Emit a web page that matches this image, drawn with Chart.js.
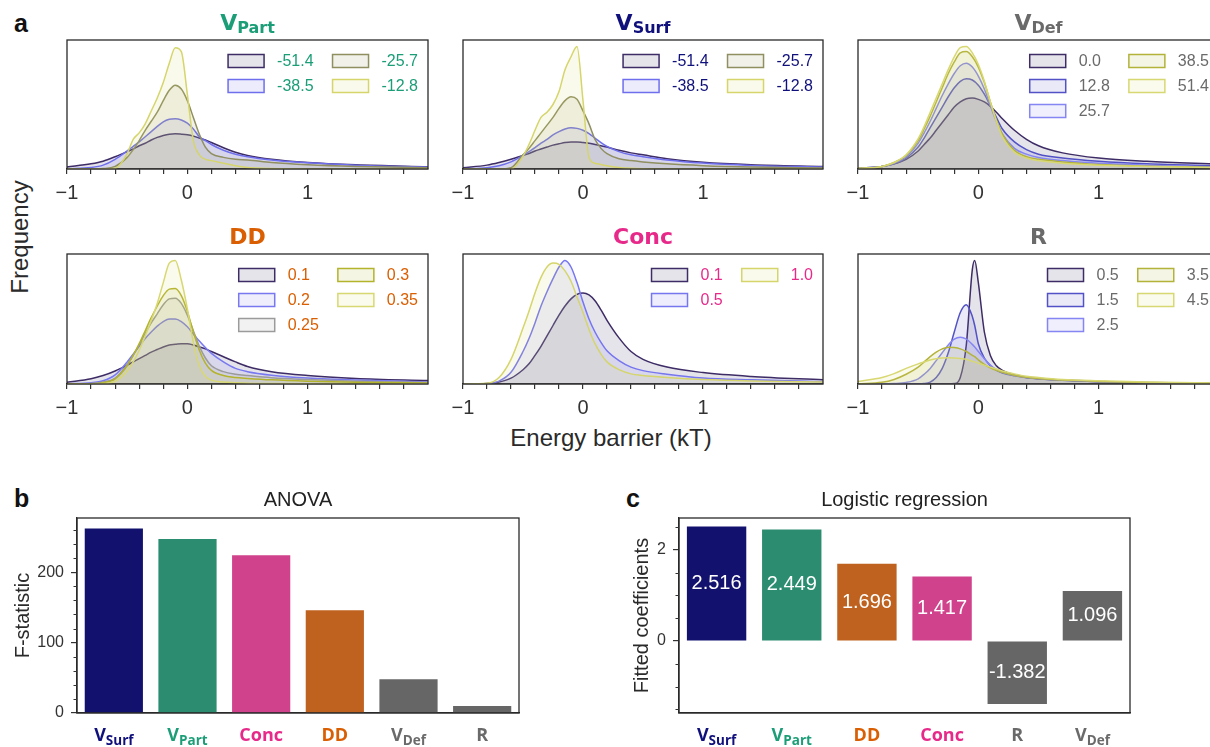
<!DOCTYPE html>
<html>
<head>
<meta charset="utf-8">
<script src="https://cdn.jsdelivr.net/npm/chart.js@4.4.1/dist/chart.umd.min.js"></script>
<style>
  html, body { margin: 0; padding: 0; background: #fff; overflow: hidden; }
  #page { position: relative; width: 1210px; height: 747px; overflow: hidden; background: #fff; }
  canvas { position: absolute; }
  .lbl { position: absolute; font-family: "Liberation Sans", Arial, sans-serif; color: #2a2a2a; line-height: 1; white-space: nowrap; }
</style>
</head>
<body>
<div id="page">
  <div class="lbl" style="left:14px;top:11px;font-size:25px;font-weight:bold;color:#111;">a</div>
  <div class="lbl" style="left:14px;top:486px;font-size:25px;font-weight:bold;color:#111;">b</div>
  <div class="lbl" style="left:626px;top:486px;font-size:25px;font-weight:bold;color:#111;">c</div>
  <div class="lbl" style="left:20px;top:237px;font-size:24px;transform:translate(-50%,-50%) rotate(-90deg);">Frequency</div>
  <div class="lbl" style="left:611px;top:426px;font-size:24px;transform:translateX(-50%);">Energy barrier (kT)</div>
</div>
<script>
// ---- data: KDE panels (density in % of panel height) ----
const energyGrid = [-1, -0.8, -0.7, -0.6, -0.5, -0.45, -0.4, -0.35, -0.3, -0.25, -0.2, -0.15, -0.1, -0.05, 0, 0.05, 0.1, 0.15, 0.2, 0.3, 0.4, 0.5, 0.7, 1.0, 1.4, 2.0];
const energyGridR = [-1, -0.8, -0.7, -0.6, -0.5, -0.45, -0.4, -0.35, -0.3, -0.25, -0.2, -0.15, -0.1, -0.05, -0.03, 0, 0.05, 0.1, 0.15, 0.2, 0.3, 0.4, 0.5, 0.7, 1.0, 1.4, 2.0];

const vPartLevels = ['-51.4', '-38.5', '-25.7', '-12.8'];
const vPartDensity = [
  [1.5, 4, 6, 9.5, 13.5, 15.5, 18, 20, 22.5, 24.5, 26, 27, 27.3, 27, 26.5, 25.5, 24, 22.5, 20.5, 16.5, 13, 10.5, 7.5, 5, 3.2, 1.8],
  [0.2, 1.2, 3, 7.5, 14, 17.5, 21, 25, 29, 33, 36.5, 38.5, 39, 38, 35.5, 31, 25, 22, 19, 14.5, 11.5, 9.5, 7, 4.8, 3, 1.5],
  [0, 0, 0.3, 2, 9, 15, 22, 30, 37, 44, 53, 61, 65, 62, 53, 40, 27, 17, 12, 9, 7.5, 7, 5, 3.3, 2, 1],
  [0, 0, 0, 0.5, 12, 23, 28, 35, 45, 55, 67, 82, 94, 91, 58, 22, 11, 7.5, 6.5, 4.5, 2.5, 1.2, 0.3, 0, 0, 0]
];

const vSurfLevels = ['-51.4', '-38.5', '-25.7', '-12.8'];
const vSurfDensity = [
  [1, 3, 5, 7.5, 10.5, 12, 14, 15.5, 17, 18.5, 19.5, 20.5, 21, 21, 20.5, 20, 19, 18, 17, 14.5, 12.5, 11, 8, 5.2, 3.3, 2],
  [0.2, 1, 2.5, 5.5, 10.5, 13.5, 16.5, 20, 23, 26.5, 29, 31, 32, 31.5, 30, 27.5, 24, 20.5, 17.5, 13.5, 11, 9.5, 7, 4.6, 2.8, 1.5],
  [0, 0, 0, 1, 11, 16, 22, 28, 34, 40, 47, 53, 56, 54, 45, 35, 23, 16, 12, 8, 6.5, 5.5, 4, 2.6, 1.5, 0.8],
  [0, 0, 0, 0, 10, 19, 30, 40, 44, 50, 60, 77, 87, 95, 53, 9, 4.5, 3.5, 2.5, 1.2, 0.5, 0.2, 0, 0, 0, 0]
];

const vDefLevels = ['0.0', '12.8', '25.7', '38.5', '51.4'];
const vDefDensity = [
  [0.5, 2, 4, 7.5, 14, 19, 24, 30, 36, 42, 48, 52, 54.5, 55, 54, 52, 48.5, 44, 39, 30, 23, 18, 12.5, 8.5, 6, 3.8],
  [0.5, 2, 4, 8.5, 17, 24, 32, 40, 48, 56, 63, 68, 70, 69, 65, 58, 49, 40, 31, 21, 15, 11.5, 8.5, 6, 4, 2.3],
  [0.5, 2, 4.5, 9.5, 20, 28, 37, 47, 57, 66, 74, 80, 82, 79, 72, 62, 49, 37, 27, 16, 11.5, 9, 6.5, 4.4, 3, 1.5],
  [0.5, 2, 5, 10.5, 22, 31, 41, 52, 63, 74, 83, 90, 91, 87, 79, 67, 52, 38, 27, 14.5, 9.5, 7.5, 5.5, 3.4, 2.2, 1.2],
  [0.5, 2, 5, 11, 23.5, 33, 44, 55, 66, 77, 87, 94, 95, 90, 81, 68, 52, 37, 25, 13, 8.5, 6.5, 4.5, 3, 2, 1]
];

const ddLevels = ['0.1', '0.2', '0.25', '0.3', '0.35'];
const ddDensity = [
  [1.3, 4, 6.5, 10, 14.5, 17, 19.5, 22, 24.5, 26.5, 28.5, 30, 30.5, 31, 31, 30, 28.5, 27, 25, 21, 17, 13.5, 9.5, 6.5, 4.3, 2.6],
  [0.1, 1, 2.5, 7, 17, 23, 29, 35, 40, 44.5, 48, 50, 50, 48, 44, 38.5, 33, 28, 23.5, 17, 12, 9.5, 6.8, 4.6, 3, 1.6],
  [0, 0.3, 1.5, 4.5, 15, 22, 30, 39, 47, 54, 61, 65.5, 66, 62, 53, 41, 29, 20, 14, 9.5, 7.5, 6.5, 4.8, 3.4, 2.2, 1.2],
  [0, 0.2, 1, 4, 14, 22, 31, 41, 51, 60, 68, 73, 73.5, 68, 56, 40, 26, 16, 10.5, 6.5, 5, 4.3, 3.2, 2.2, 1.4, 0.8],
  [0, 0, 0.3, 2, 10, 17, 26, 37, 49, 62, 78, 93, 95, 80, 58, 32, 14, 6, 3, 1.5, 1, 0.6, 0.3, 0.1, 0, 0]
];

const concLevels = ['0.1', '0.5', '1.0'];
const concDensity = [
  [0, 0.3, 1.5, 4.5, 11, 15.5, 22, 29, 37, 45, 53, 60, 65.5, 69, 70, 68.5, 64, 57, 49, 35.5, 25, 19, 13, 8.8, 5.8, 3.2],
  [0, 0.3, 2.2, 9, 25, 35, 47, 60, 71, 81, 90, 95, 90, 78, 63, 50, 40, 32, 25.5, 18, 13, 10.3, 7.5, 4.6, 3.2, 1.8],
  [0, 0.5, 5, 19, 43, 56, 70, 82, 90, 93, 92, 87, 79, 67, 55, 42, 31, 23, 17, 11, 7.8, 6.5, 5, 3.4, 2.3, 1.5]
];

const rLevels = ['0.5', '1.5', '2.5', '3.5', '4.5'];
const rDensity = [
  [0, 0, 0, 0, 0, 0, 0, 0, 0, 0, 0.3, 5, 30, 88, 95, 78, 40, 22, 14, 10.5, 7, 5, 4, 2.8, 1.8, 1, 0.4],
  [0, 0, 0, 0, 0, 0.3, 1.5, 5, 12, 24, 40, 55, 61, 52, 45, 31, 20, 14, 10.5, 8.5, 6.3, 4.8, 4, 2.8, 1.8, 1, 0.4],
  [0, 0, 0.3, 1.2, 4, 7.5, 12, 18, 24, 30, 34.5, 36, 34.5, 30.5, 28.5, 25, 19.5, 14.5, 11, 9, 6.8, 5.2, 4.2, 3, 2, 1.1, 0.5],
  [0.2, 1.3, 3.5, 7.5, 13, 17, 21, 24.5, 27, 28.3, 28, 27, 25, 22, 21, 18.5, 15, 12.5, 10.5, 9, 6.8, 5.2, 4.2, 3, 2, 1.1, 0.5],
  [2, 5, 8, 12, 15.5, 17, 18.5, 19.5, 20, 20.2, 20, 19.6, 19, 17.5, 17, 16, 14.5, 13, 11.5, 10, 7.8, 6, 5, 3.5, 2.5, 1.6, 0.8]
];

const kdeTicks = [-1, -0.8, -0.6, -0.4, -0.2, 0, 0.2, 0.4, 0.6, 0.8, 1, 1.2, 1.4, 1.6, 1.8];
const kdeTickLabels = [-1, 0, 1];

// ---- data: bar panels ----
const anovaParams = ['VSurf', 'VPart', 'Conc', 'DD', 'VDef', 'R'];
const anovaF = [262, 247, 224, 146, 48, 10];
const anovaTicks = [0, 100, 200];
const anovaMinor = [20, 40, 60, 80, 120, 140, 160, 180, 220, 240, 260];

const logitParams = ['VSurf', 'VPart', 'DD', 'Conc', 'R', 'VDef'];
const logitCoef = [2.516, 2.449, 1.696, 1.417, -1.382, 1.096];
const logitTicks = [0, 2];
const logitMinor = [-1.5, -1, -0.5, 0.5, 1, 1.5, 2.5];

// ---- styles ----
const FONT = '"Liberation Sans", Arial, sans-serif';
const TITLE_FONT = '"DejaVu Sans", "Open Sans", sans-serif';
const CAT_FONT = '"Open Sans", "DejaVu Sans", sans-serif';
const labelParts = { VSurf: ['V', 'Surf'], VPart: ['V', 'Part'], VDef: ['V', 'Def'], DD: ['DD', ''], Conc: ['Conc', ''], R: ['R', ''] };
const textColors = { VSurf: '#10107c', VPart: '#1b9e77', VDef: '#6a6a6a', DD: '#d95f02', Conc: '#e7298a', R: '#6a6a6a' };
const barColors = { VSurf: '#12126e', VPart: '#2b8c6f', Conc: '#d0428b', DD: '#bf621f', VDef: '#666666', R: '#666666' };

const palette4 = ['#3d2c66', '#6f6fee', '#8f8f60', '#d5d56c'];
const palette5 = ['#3d2c66', '#5252c6', '#8585f3', '#b3b33a', '#d8d872'];
const paletteDD = ['#3d2c66', '#7878f0', '#9b9b9b', '#b3b32c', '#d8d872'];
const palette3 = ['#3d2c66', '#7676ef', '#d5d56c'];

Chart.defaults.font.family = FONT;
Chart.defaults.color = '#333';

function rgba(hex, a) {
  const n = parseInt(hex.slice(1), 16);
  return `rgba(${n >> 16}, ${(n >> 8) & 255}, ${n & 255}, ${a})`;
}

function fmtTick(v) {
  return v < 0 ? '\u2212' + Math.abs(v) : String(v);
}

// box round the plot area
const frame = {
  id: 'frame',
  afterDraw(chart) {
    const a = chart.chartArea, ctx = chart.ctx;
    ctx.save();
    ctx.strokeStyle = '#2a2a2a';
    ctx.lineWidth = 1.3;
    ctx.strokeRect(a.left, a.top, a.right - a.left, a.bottom - a.top);
    ctx.restore();
  }
};

// V with subscript, above each KDE panel
const panelTitle = {
  id: 'panelTitle',
  afterDraw(chart, args, opts) {
    const ctx = chart.ctx, a = chart.chartArea;
    const [main, sub] = labelParts[opts.param];
    ctx.save();
    ctx.fillStyle = textColors[opts.param];
    ctx.textBaseline = 'alphabetic';
    ctx.font = `bold 22px ${TITLE_FONT}`;
    const w1 = ctx.measureText(main).width;
    ctx.font = `bold 16px ${TITLE_FONT}`;
    const w2 = sub ? ctx.measureText(sub).width : 0;
    const x = (a.left + a.right) / 2 - (w1 + w2) / 2;
    const y = a.top - 10;
    ctx.font = `bold 22px ${TITLE_FONT}`;
    ctx.fillText(main, x, y);
    if (sub) {
      ctx.font = `bold 16px ${TITLE_FONT}`;
      ctx.fillText(sub, x + w1, y + 3);
    }
    ctx.restore();
  }
};

// two-column legend, filled column by column
const kdeLegend = {
  id: 'kdeLegend',
  afterDraw(chart, args, opts) {
    const ds = chart.data.datasets;
    const ctx = chart.ctx, a = chart.chartArea;
    const pw = 36, ph = 13, gap = 13, colGap = 19, rightPad = 10;
    ctx.save();
    ctx.font = `16px ${FONT}`;
    const rows = Math.ceil(ds.length / 2);
    const cols = [ds.slice(0, rows), ds.slice(rows)];
    const colW = cols.map(c => pw + gap + Math.max(...c.map(d => ctx.measureText(d.label).width)));
    let x = a.right - rightPad - colW[0] - colW[1] - colGap;
    cols.forEach((c, ci) => {
      c.forEach((d, ri) => {
        const yc = a.top + 21 + ri * 25;
        ctx.fillStyle = '#fff';
        ctx.fillRect(x, yc - ph / 2, pw, ph);
        ctx.fillStyle = d.backgroundColor;
        ctx.fillRect(x, yc - ph / 2, pw, ph);
        ctx.strokeStyle = d.borderColor;
        ctx.lineWidth = 1.5;
        ctx.strokeRect(x, yc - ph / 2, pw, ph);
        ctx.fillStyle = textColors[opts.param];
        ctx.textBaseline = 'middle';
        ctx.fillText(d.label, x + pw + gap, yc + 1);
      });
      x += colW[ci] + colGap;
    });
    ctx.restore();
  }
};

// short unlabeled ticks on the y axis
const minorTicks = {
  id: 'minorTicks',
  afterDraw(chart, args, opts) {
    const s = chart.scales.y, ctx = chart.ctx, x = chart.chartArea.left;
    ctx.save();
    ctx.strokeStyle = '#333';
    ctx.lineWidth = 1;
    opts.values.forEach(v => {
      const y = Math.round(s.getPixelForValue(v)) + 0.5;
      ctx.beginPath();
      ctx.moveTo(x, y);
      ctx.lineTo(x - 3.5, y);
      ctx.stroke();
    });
    ctx.restore();
  }
};

// coloured category names with subscripts
const catLabels = {
  id: 'catLabels',
  afterDraw(chart) {
    const s = chart.scales.x, ctx = chart.ctx;
    const y = chart.chartArea.bottom + 28;
    ctx.save();
    ctx.textBaseline = 'alphabetic';
    chart.data.labels.forEach((lab, i) => {
      const [main, sub] = labelParts[lab];
      ctx.font = `bold 18px ${CAT_FONT}`;
      const w1 = ctx.measureText(main).width;
      ctx.font = `bold 13.5px ${CAT_FONT}`;
      const w2 = sub ? ctx.measureText(sub).width : 0;
      const x = s.getPixelForTick(i) - (w1 + w2) / 2;
      ctx.fillStyle = textColors[lab];
      ctx.font = `bold 18px ${CAT_FONT}`;
      ctx.fillText(main, x, y);
      if (sub) {
        ctx.font = `bold 13.5px ${CAT_FONT}`;
        ctx.fillText(sub, x + w1, y + 4);
      }
    });
    ctx.restore();
  }
};

// numbers printed inside the bars
const barValues = {
  id: 'barValues',
  afterDatasetsDraw(chart) {
    const ctx = chart.ctx;
    const meta = chart.getDatasetMeta(0);
    const vals = chart.data.datasets[0].data;
    ctx.save();
    ctx.fillStyle = '#fff';
    ctx.font = `20px ${FONT}`;
    ctx.textAlign = 'center';
    ctx.textBaseline = 'middle';
    meta.data.forEach((bar, i) => {
      const p = bar.getProps(['x', 'y', 'base'], true);
      ctx.fillText(vals[i].toFixed(3), p.x, (p.y + p.base) / 2);
    });
    ctx.restore();
  }
};

const page = document.getElementById('page');

function addCanvas(left, top, w, h) {
  const c = document.createElement('canvas');
  c.width = w;
  c.height = h;
  c.style.left = left + 'px';
  c.style.top = top + 'px';
  page.appendChild(c);
  return c;
}

const kdePanels = [
  { param: 'VPart', levels: vPartLevels, density: vPartDensity, grid: energyGrid, palette: palette4, left: 67, top: 40, width: 361, height: 129 },
  { param: 'VSurf', levels: vSurfLevels, density: vSurfDensity, grid: energyGrid, palette: palette4, left: 463, top: 40, width: 360, height: 129 },
  { param: 'VDef', levels: vDefLevels, density: vDefDensity, grid: energyGrid, palette: palette5, left: 858, top: 40, width: 361, height: 129 },
  { param: 'DD', levels: ddLevels, density: ddDensity, grid: energyGrid, palette: paletteDD, left: 67, top: 254, width: 361, height: 130 },
  { param: 'Conc', levels: concLevels, density: concDensity, grid: energyGrid, palette: palette3, left: 463, top: 254, width: 360, height: 130 },
  { param: 'R', levels: rLevels, density: rDensity, grid: energyGridR, palette: palette5, left: 858, top: 254, width: 361, height: 130 }
];

function makeKde(p) {
  const padL = 20, padR = 20, padT = 40, padB = 4, axisH = 30;
  const canvas = addCanvas(p.left - padL, p.top - padT, p.width + padL + padR, padT + p.height + axisH + padB);
  const n = p.levels.length;
  new Chart(canvas, {
    type: 'line',
    data: {
      datasets: p.levels.map((lev, i) => ({
        label: lev,
        data: p.grid.map((x, j) => ({ x: x, y: p.density[i][j] })),
        borderColor: p.palette[i],
        backgroundColor: rgba(p.palette[i], 0.13),
        borderWidth: 1.5,
        pointRadius: 0,
        fill: 'origin',
        cubicInterpolationMode: 'monotone',
        order: n - i
      }))
    },
    options: {
      responsive: false,
      animation: false,
      devicePixelRatio: 1,
      events: [],
      layout: { padding: { left: padL, right: padR, top: padT, bottom: padB } },
      plugins: {
        legend: { display: false },
        tooltip: { enabled: false },
        panelTitle: { param: p.param },
        kdeLegend: { param: p.param }
      },
      scales: {
        x: {
          type: 'linear', min: -1, max: 2,
          afterBuildTicks: s => { s.ticks = kdeTicks.map(v => ({ value: v })); },
          afterFit: s => { s.height = axisH; },
          ticks: {
            autoSkip: false, maxRotation: 0, padding: 7,
            font: { size: 20 }, color: '#333',
            callback: v => kdeTickLabels.includes(v) ? fmtTick(v) : ''
          },
          grid: { drawOnChartArea: false, tickLength: 5, color: '#333', lineWidth: 1.2 },
          border: { display: true, color: '#2a2a2a', width: 1.3 }
        },
        y: { display: false, min: 0, max: 100 }
      }
    },
    plugins: [frame, panelTitle, kdeLegend]
  });
}

kdePanels.forEach(makeKde);

function makeBars(cfg) {
  const canvas = addCanvas(cfg.left, cfg.top, cfg.w, cfg.h);
  new Chart(canvas, {
    type: 'bar',
    data: {
      labels: cfg.params,
      datasets: [{
        data: cfg.values,
        backgroundColor: cfg.params.map(p => barColors[p]),
        barPercentage: 0.79,
        categoryPercentage: 1
      }]
    },
    options: {
      responsive: false,
      animation: false,
      devicePixelRatio: 1,
      events: [],
      layout: { padding: { left: 0, right: cfg.padRight, top: 0, bottom: 0 } },
      plugins: {
        legend: { display: false },
        tooltip: { enabled: false },
        title: {
          display: true, text: cfg.title, fullSize: false, color: '#222',
          font: { size: 20, weight: 'normal' }, padding: { top: 10, bottom: 6 }
        },
        minorTicks: { values: cfg.minor }
      },
      scales: {
        x: {
          grid: { display: false },
          ticks: { display: false },
          border: { display: true, color: '#2a2a2a', width: 1.3 },
          afterFit: s => { s.height = 34; }
        },
        y: {
          min: cfg.min, max: cfg.max,
          afterBuildTicks: s => { s.ticks = cfg.ticks.map(v => ({ value: v })); },
          afterFit: s => { s.width = cfg.axisW; },
          ticks: { font: { size: 16 }, color: '#333', padding: 7 },
          grid: { drawOnChartArea: false, tickLength: 6, color: '#333', lineWidth: 1.2 },
          border: { display: true, color: '#2a2a2a', width: 1.3 },
          title: { display: true, text: cfg.yTitle, color: '#2a2a2a', font: { size: 20 }, padding: { top: cfg.titlePad, bottom: 0 } }
        }
      }
    },
    plugins: cfg.showValues ? [frame, minorTicks, catLabels, barValues] : [frame, minorTicks, catLabels]
  });
}

makeBars({
  left: 0, top: 478, w: 530, h: 269, padRight: 11, axisW: 77, titlePad: 11,
  params: anovaParams, values: anovaF, title: 'ANOVA', yTitle: 'F-statistic',
  min: 0, max: 277, ticks: anovaTicks, minor: anovaMinor, showValues: false
});

makeBars({
  left: 610, top: 478, w: 600, h: 269, padRight: 80, axisW: 69, titlePad: 20,
  params: logitParams, values: logitCoef, title: 'Logistic regression', yTitle: 'Fitted coefficients',
  min: -1.58, max: 2.70, ticks: logitTicks, minor: logitMinor, showValues: true
});
</script>
</body>
</html>
